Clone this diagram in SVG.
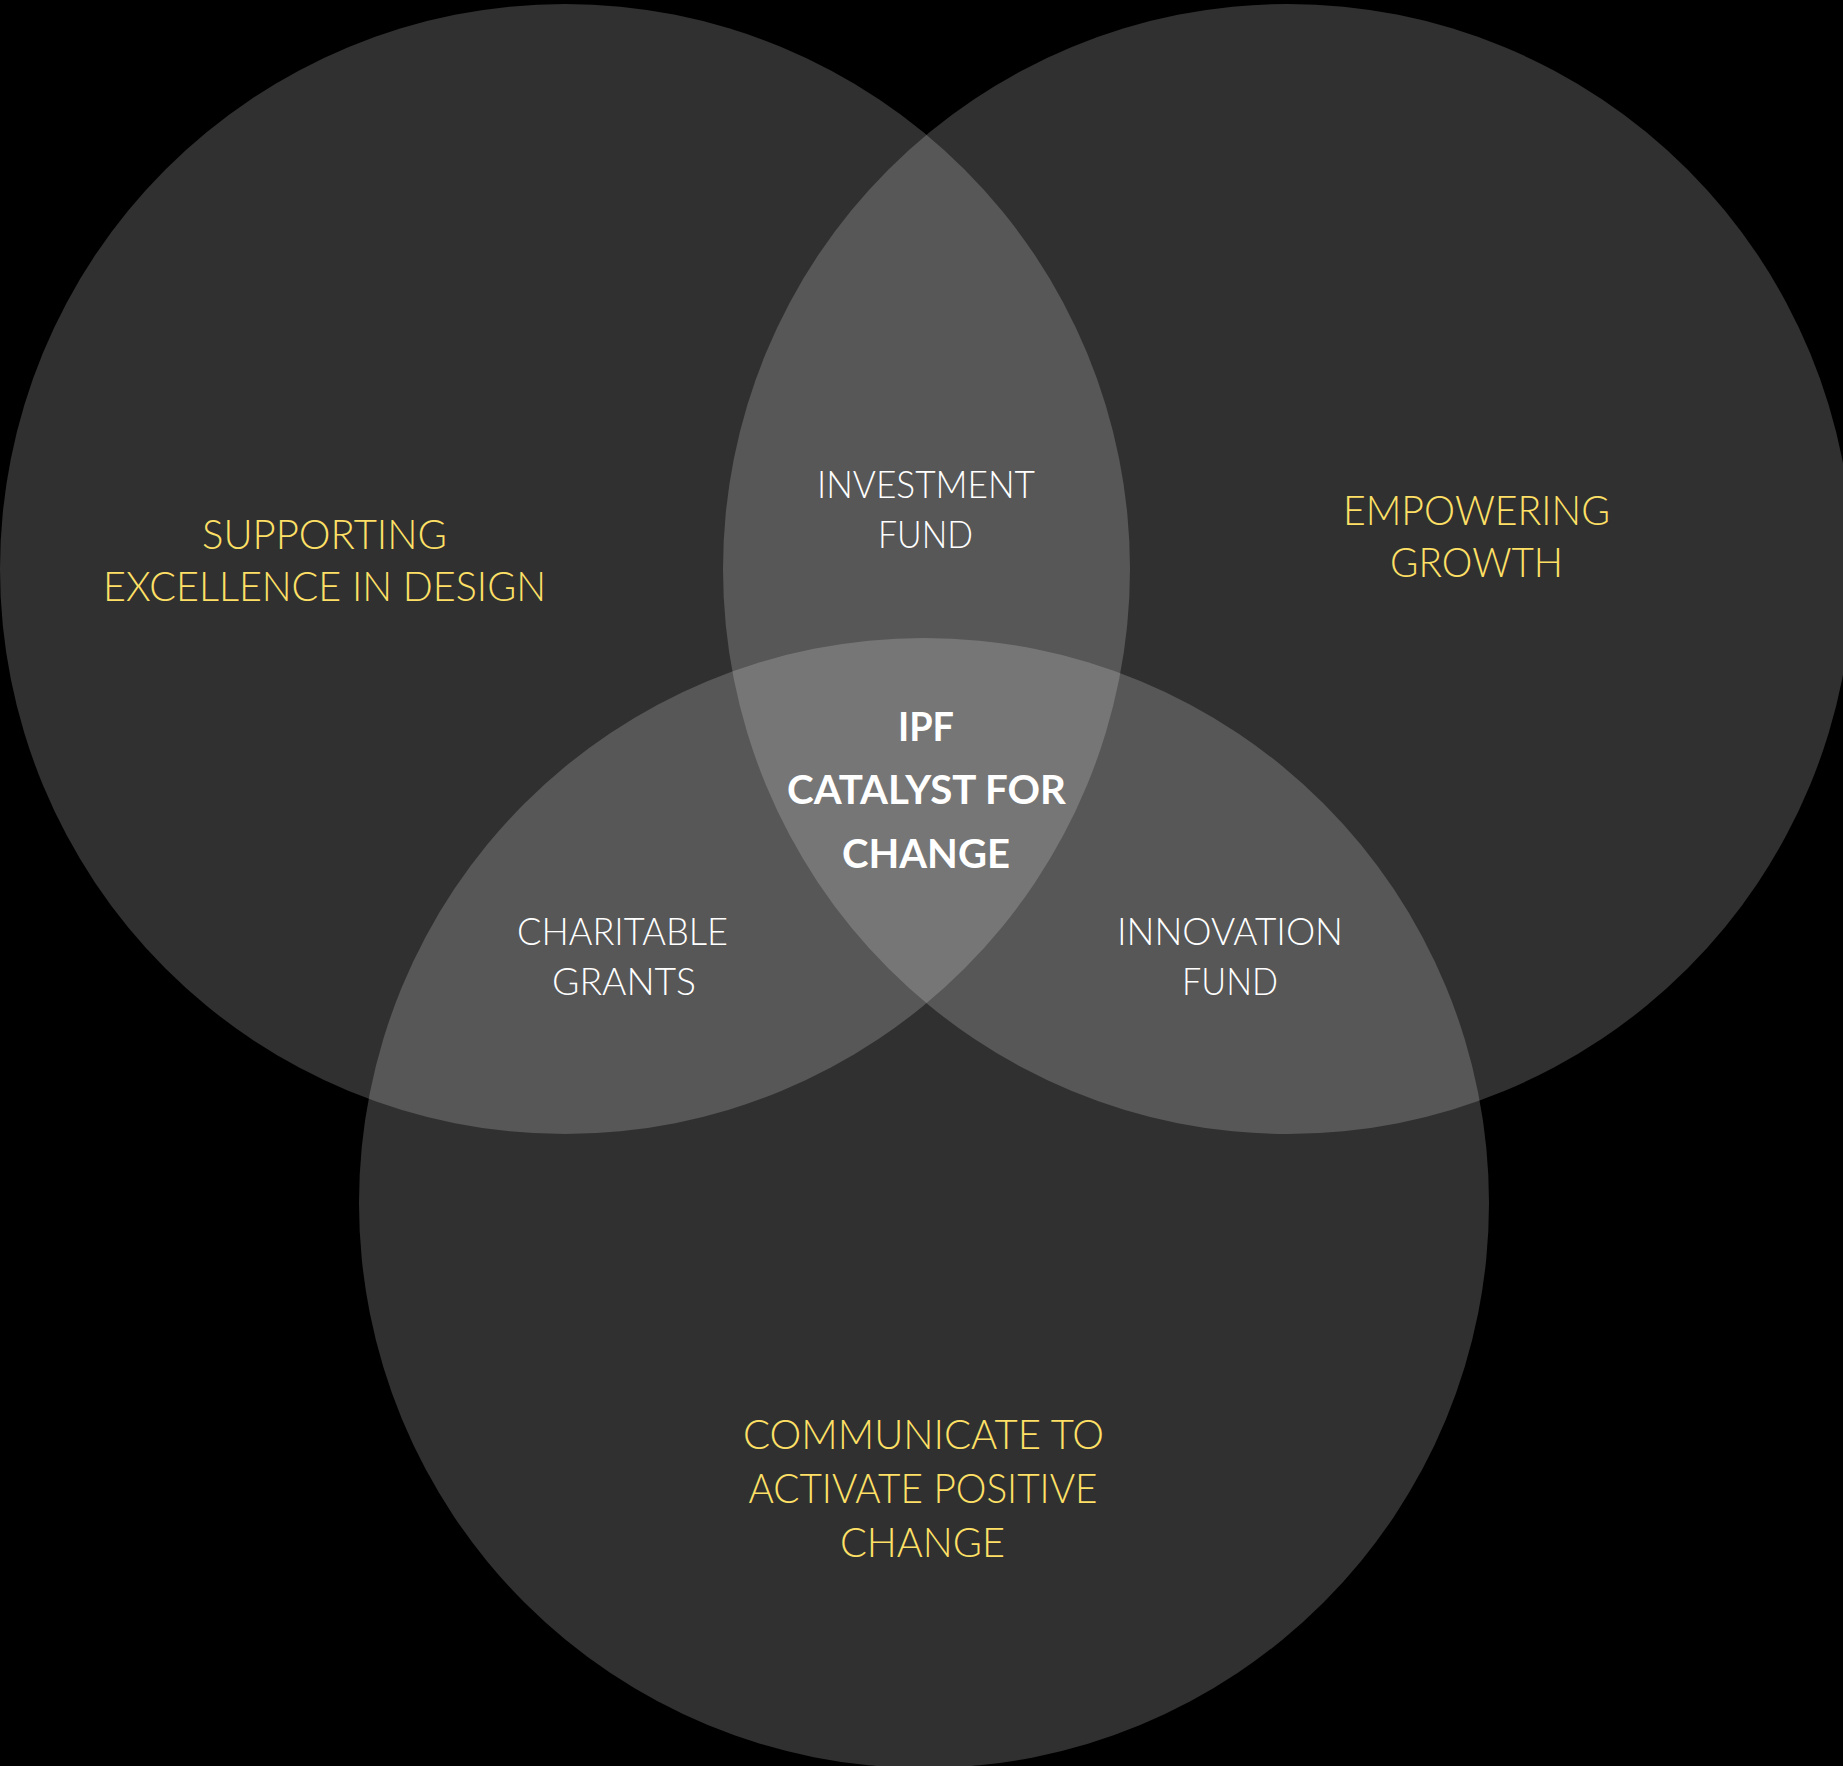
<svg xmlns="http://www.w3.org/2000/svg" width="1843" height="1766" viewBox="0 0 1843 1766">
  <style>
    .circle { fill: #ffffff; fill-opacity: 0.188; }
    .goal { font-family: Lato, "Liberation Sans", sans-serif; font-size: 42px; font-weight: 300; fill: #FFE066; text-anchor: middle; }
    .fund { font-family: Lato, "Liberation Sans", sans-serif; font-size: 38px; font-weight: 300; fill: #ffffff; text-anchor: middle; }
    .core { font-family: Lato, "Liberation Sans", sans-serif; font-size: 40px; font-weight: bold; fill: #ffffff; text-anchor: middle; }
  </style>
  <rect x="0" y="0" width="1843" height="1766" fill="#000000"/>
  <g id="circles">
    <g id="node-design">
      <circle class="circle" cx="565" cy="569" r="565"/>
    </g>
    <g id="node-growth">
      <circle class="circle" cx="1288" cy="569" r="565"/>
    </g>
    <g id="node-communicate">
      <circle class="circle" cx="924" cy="1203" r="565"/>
    </g>
  </g>
  <g id="connectors"></g>
  <g id="labels">
    <g id="label-design">
      <text class="goal" x="324.5" y="549" textLength="245" lengthAdjust="spacingAndGlyphs">SUPPORTING</text>
      <text class="goal" x="324.5" y="601" textLength="443" lengthAdjust="spacingAndGlyphs">EXCELLENCE IN DESIGN</text>
    </g>
    <g id="label-growth">
      <text class="goal" x="1476.5" y="525" textLength="267" lengthAdjust="spacingAndGlyphs">EMPOWERING</text>
      <text class="goal" x="1476.5" y="577" textLength="173" lengthAdjust="spacingAndGlyphs">GROWTH</text>
    </g>
    <g id="label-communicate">
      <text class="goal" x="923.5" y="1449" textLength="361" lengthAdjust="spacingAndGlyphs">COMMUNICATE TO</text>
      <text class="goal" x="923" y="1503" textLength="349" lengthAdjust="spacingAndGlyphs">ACTIVATE POSITIVE</text>
      <text class="goal" x="922.5" y="1557" textLength="165" lengthAdjust="spacingAndGlyphs">CHANGE</text>
    </g>
    <g id="node-investment-fund">
      <text class="fund" x="926" y="498" textLength="218" lengthAdjust="spacingAndGlyphs">INVESTMENT</text>
      <text class="fund" x="925.5" y="548" textLength="95" lengthAdjust="spacingAndGlyphs">FUND</text>
    </g>
    <g id="node-charitable-grants">
      <text class="fund" x="622.5" y="945" textLength="211" lengthAdjust="spacingAndGlyphs">CHARITABLE</text>
      <text class="fund" x="624" y="995" textLength="144" lengthAdjust="spacingAndGlyphs">GRANTS</text>
    </g>
    <g id="node-innovation-fund">
      <text class="fund" x="1230" y="945" textLength="226" lengthAdjust="spacingAndGlyphs">INNOVATION</text>
      <text class="fund" x="1230" y="995" textLength="96" lengthAdjust="spacingAndGlyphs">FUND</text>
    </g>
    <g id="node-ipf">
      <text class="core" x="926" y="741" textLength="56" lengthAdjust="spacingAndGlyphs">IPF</text>
      <text class="core" x="926.5" y="804" textLength="279" lengthAdjust="spacingAndGlyphs">CATALYST FOR</text>
      <text class="core" x="926" y="868" textLength="168" lengthAdjust="spacingAndGlyphs">CHANGE</text>
    </g>
  </g>
</svg>
